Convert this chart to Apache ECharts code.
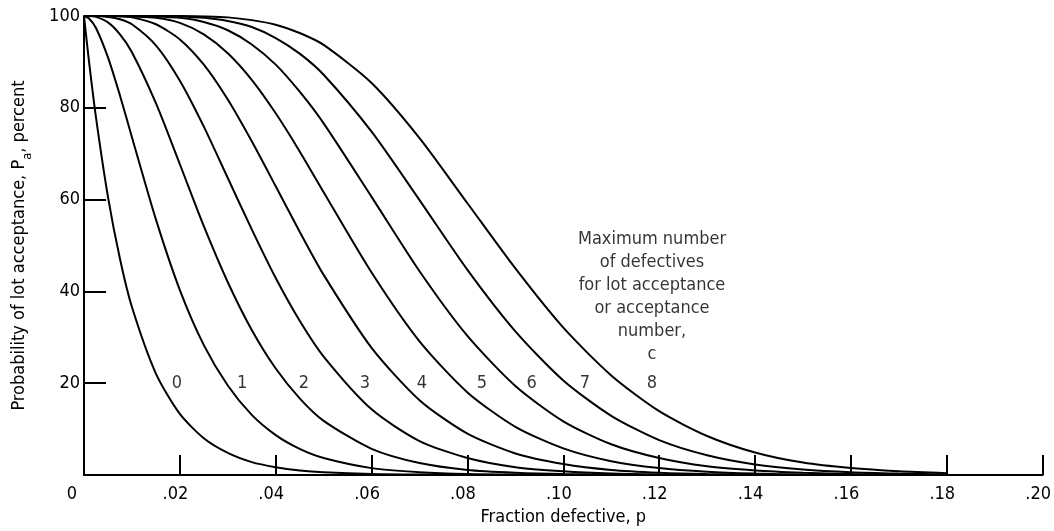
<!DOCTYPE html>
<html>
<head>
<meta charset="utf-8">
<script src="https://cdn.jsdelivr.net/npm/echarts@6/dist/echarts.min.js"></script>
<style>
html,body{margin:0;padding:0;background:#fff;}
#chart{width:1054px;height:531px;}
</style>
</head>
<body>
<div id="chart"></div>
<script>
// Fraction defective (x values)
const fractionDefective = [0, 0.001, 0.0025, 0.005, 0.0075, 0.01, 0.015, 0.02, 0.025, 0.03, 0.035, 0.04, 0.045, 0.05, 0.06, 0.07, 0.08, 0.09, 0.10, 0.11, 0.12, 0.13, 0.14, 0.15, 0.16, 0.17, 0.18];
// Probability of lot acceptance (percent) for each acceptance number c
const pa_c0 = [100, 90.5, 77.9, 60.6, 47.1, 36.6, 22.1, 13.3, 8.0, 4.8, 2.8, 1.7, 1.0, 0.6, 0.2, 0.1, 0, 0, 0, 0, 0, 0, 0, 0, 0, 0, 0];
const pa_c1 = [100, 99.5, 97.4, 91.0, 82.7, 73.6, 55.7, 40.3, 28.3, 19.5, 13.1, 8.7, 5.7, 3.7, 1.5, 0.6, 0.2, 0.1, 0, 0, 0, 0, 0, 0, 0, 0, 0];
const pa_c2 = [100, 100, 99.8, 98.6, 96.0, 92.1, 81.0, 67.7, 54.2, 42.0, 31.6, 23.2, 16.7, 11.8, 5.7, 2.6, 1.1, 0.5, 0.2, 0.1, 0, 0, 0, 0, 0, 0, 0];
const pa_c3 = [100, 100, 100, 99.8, 99.3, 98.2, 93.6, 85.9, 75.9, 64.7, 53.5, 42.9, 33.6, 25.8, 14.3, 7.4, 3.7, 1.7, 0.8, 0.3, 0.1, 0, 0, 0, 0, 0, 0];
const pa_c4 = [100, 100, 100, 100, 99.9, 99.7, 98.2, 94.9, 89.4, 81.8, 72.7, 62.9, 53.0, 43.6, 27.7, 16.3, 9.0, 4.7, 2.4, 1.1, 0.5, 0.2, 0.1, 0, 0, 0, 0];
const pa_c5 = [100, 100, 100, 100, 100, 99.9, 99.6, 98.5, 96.0, 91.9, 86.1, 78.8, 70.5, 61.6, 44.1, 29.1, 18.0, 10.5, 5.8, 3.0, 1.5, 0.7, 0.3, 0.1, 0, 0, 0];
const pa_c6 = [100, 100, 100, 100, 100, 100, 99.9, 99.6, 98.7, 96.9, 93.8, 89.4, 83.5, 76.6, 60.6, 44.4, 30.3, 19.4, 11.7, 6.7, 3.7, 1.9, 1.0, 0.5, 0.2, 0.1, 0];
const pa_c7 = [100, 100, 100, 100, 100, 100, 100, 99.9, 99.6, 98.9, 97.6, 95.2, 91.8, 87.2, 74.8, 59.9, 44.7, 31.3, 20.6, 12.9, 7.6, 4.3, 2.3, 1.2, 0.6, 0.3, 0.1];
const pa_c8 = [100, 100, 100, 100, 100, 100, 100, 100, 99.9, 99.7, 99.1, 98.1, 96.3, 93.7, 85.4, 73.4, 59.2, 45.0, 32.1, 21.7, 13.9, 8.5, 4.9, 2.7, 1.5, 0.8, 0.4];
const curveNames = ['0', '1', '2', '3', '4', '5', '6', '7', '8'];
const curveValues = [pa_c0, pa_c1, pa_c2, pa_c3, pa_c4, pa_c5, pa_c6, pa_c7, pa_c8];
// Axis ticks
const xTicks = [0, 0.02, 0.04, 0.06, 0.08, 0.10, 0.12, 0.14, 0.16, 0.18, 0.20];
const yTicks = [0, 20, 40, 60, 80, 100];
// Annotation text
const noteLines = ['Maximum number', 'of defectives', 'for lot acceptance', 'or acceptance', 'number,', 'c'];

// label placement (layout, not data)
const curveLabelPos = [[0.0194, 20], [0.0330, 20], [0.0459, 20], [0.0586, 20], [0.0705, 20], [0.0830, 20], [0.0934, 20], [0.1045, 20], [0.1185, 20]];
const notePos = [0.1185, 38.8];

const FONT = '"Liberation Sans Narrow", "DejaVu Sans Condensed", "Liberation Sans", sans-serif';
const TXT = '#000';

const chart = echarts.init(document.getElementById('chart'), null, {renderer: 'canvas'});

const series = curveValues.map((vals, i) => ({
  name: 'c = ' + curveNames[i],
  type: 'line',
  data: fractionDefective.map((p, j) => [p, vals[j]]),
  showSymbol: false,
  smooth: 0.25,
  lineStyle: {color: '#000', width: 2},
  itemStyle: {color: '#000'},
  silent: true,
  clip: true,
  z: 3
}));

series.push({
  type: 'scatter',
  symbolSize: 0,
  silent: true,
  data: curveLabelPos.map((pos, i) => ({value: pos, name: curveNames[i]})),
  label: {
    show: true, position: 'inside', formatter: '{b}',
    fontFamily: FONT, fontSize: 18, color: TXT
  },
  z: 5
});

series.push({
  type: 'scatter',
  symbolSize: 0,
  silent: true,
  data: [{value: notePos, name: 'note'}],
  label: {
    show: true, position: 'inside', formatter: noteLines.join('\n'),
    fontFamily: FONT, fontSize: 18, lineHeight: 23, color: TXT, align: 'center'
  },
  z: 5
});

chart.setOption({
  backgroundColor: '#fff',
  animation: false,
  grid: {left: 84, right: 11, top: 16, bottom: 54, containLabel: false},
  xAxis: {
    type: 'value',
    min: 0, max: 0.2, interval: 0.02,
    name: 'Fraction defective, p',
    nameLocation: 'middle',
    nameGap: 33,
    nameTextStyle: {fontFamily: FONT, fontSize: 18, color: TXT},
    axisLine: {show: true, lineStyle: {color: '#000', width: 2}},
    axisTick: {show: true, inside: true, length: 20, lineStyle: {color: '#000', width: 2}},
    splitLine: {show: false},
    axisLabel: {
      fontFamily: FONT, fontSize: 18, color: TXT, margin: 10,
      formatter: v => {
        const t = xTicks.find(x => Math.abs(x - v) < 1e-9);
        if (t === undefined) return '';
        if (t === 0) return '{z|0}';
        return '{n|.' + (Math.round(t * 100)).toString().padStart(2, '0') + '}';
      },
      rich: {
        z: {fontFamily: FONT, fontSize: 18, color: TXT, padding: [0, 24, 0, 0]},
        n: {fontFamily: FONT, fontSize: 18, color: TXT, padding: [0, 9, 0, 0]}
      }
    }
  },
  yAxis: {
    type: 'value',
    min: 0, max: 100, interval: 20,
    name: 'Probability of lot acceptance, P{sub|a}, percent',
    nameLocation: 'middle',
    nameGap: 56,
    nameRotate: 90,
    nameTextStyle: {
      fontFamily: FONT, fontSize: 18, color: TXT,
      rich: {sub: {fontFamily: FONT, fontSize: 13, color: TXT, verticalAlign: 'bottom', padding: [0, 0, -6, 0]}}
    },
    axisLine: {show: true, lineStyle: {color: '#000', width: 2}},
    axisTick: {show: true, inside: true, length: 22, lineStyle: {color: '#000', width: 2}},
    splitLine: {show: false},
    axisLabel: {
      fontFamily: FONT, fontSize: 18, color: TXT, margin: 4,
      showMinLabel: false,
      formatter: v => (yTicks.indexOf(v) >= 0 && v !== 0) ? String(v) : ''
    }
  },
  series: series
});
</script>
</body>
</html>
